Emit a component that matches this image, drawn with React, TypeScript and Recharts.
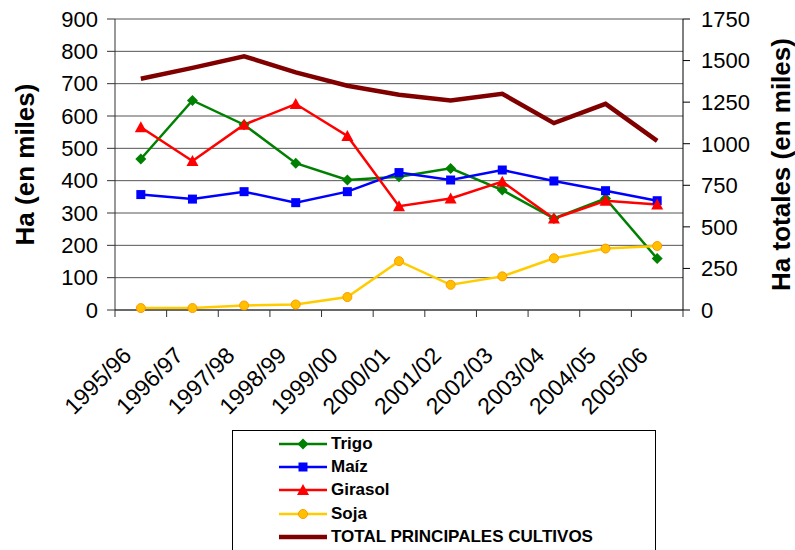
import React from 'react';
import { LineChart, Line, XAxis, YAxis, CartesianGrid, Legend } from 'recharts';

// Campañas agrícolas
const seasons = [
  '1995/96', '1996/97', '1997/98', '1998/99', '1999/00', '2000/01',
  '2001/02', '2002/03', '2003/04', '2004/05', '2005/06',
];

// Superficie sembrada, miles de ha (eje izquierdo)
const trigo = [467, 648, 573, 454, 402, 412, 438, 371, 283, 345, 159];
const maiz = [357, 343, 366, 332, 366, 425, 402, 433, 399, 369, 338];
const girasol = [565, 461, 573, 637, 538, 321, 345, 397, 283, 338, 326];
const soja = [6, 6, 14, 17, 40, 151, 78, 104, 160, 190, 198];

// Total principales cultivos, miles de ha (eje derecho)
const total = [1391, 1456, 1526, 1429, 1349, 1294, 1260, 1300, 1124, 1240, 1017];

const leftTicks = [0, 100, 200, 300, 400, 500, 600, 700, 800, 900];
const rightTicks = [0, 250, 500, 750, 1000, 1250, 1500, 1750];

const FONT = '"Liberation Sans", Arial, Helvetica, sans-serif';

type Marker = 'diamond' | 'square' | 'triangle' | 'circle' | 'none';

const series: { key: string; name: string; color: string; marker: Marker; width: number; axis: string }[] = [
  { key: 'trigo', name: 'Trigo', color: '#008000', marker: 'diamond', width: 2.5, axis: 'left' },
  { key: 'maiz', name: 'Maíz', color: '#0000FF', marker: 'square', width: 2.5, axis: 'left' },
  { key: 'girasol', name: 'Girasol', color: '#FF0000', marker: 'triangle', width: 2.5, axis: 'left' },
  { key: 'soja', name: 'Soja', color: '#FFCC00', marker: 'circle', width: 2.5, axis: 'left' },
  { key: 'total', name: 'TOTAL PRINCIPALES CULTIVOS', color: '#800000', marker: 'none', width: 4.5, axis: 'right' },
];

const data = seasons.map((season, i) => ({
  pos: i + 0.5,
  season,
  trigo: trigo[i],
  maiz: maiz[i],
  girasol: girasol[i],
  soja: soja[i],
  total: total[i],
}));

// tick marks at the category boundaries, labels at the centres
const xTicks = Array.from({ length: seasons.length * 2 + 1 }, (_, k) => k / 2);

function markerShape(marker: Marker, cx: number, cy: number, color: string, key?: string) {
  if (marker === 'diamond') {
    return <path key={key} d={`M${cx},${cy - 5.5}L${cx + 5.5},${cy}L${cx},${cy + 5.5}L${cx - 5.5},${cy}Z`} fill={color} />;
  }
  if (marker === 'square') {
    return <rect key={key} x={cx - 4.5} y={cy - 4.5} width={9} height={9} fill={color} />;
  }
  if (marker === 'triangle') {
    return <path key={key} d={`M${cx},${cy - 6}L${cx + 6},${cy + 5}L${cx - 6},${cy + 5}Z`} fill={color} />;
  }
  if (marker === 'circle') {
    return <circle key={key} cx={cx} cy={cy} r={4.5} fill="#FFC000" stroke="#FF9900" strokeWidth={1} />;
  }
  return <g key={key} />;
}

const makeDot = (marker: Marker, color: string) => (props: any) =>
  markerShape(marker, props.cx, props.cy, color, `dot-${props.index}`);

const SeasonTick = (props: any) => {
  const { x, y, payload } = props;
  const v = payload.value as number;
  if (Number.isInteger(v)) {
    return <line x1={x} y1={y} x2={x} y2={y + 7} stroke="#333" strokeWidth={1} />;
  }
  const label = seasons[Math.floor(v)];
  const tx = x - 8;
  const ty = y + 47;
  return (
    <text
      x={tx}
      y={ty}
      transform={`rotate(-45, ${tx}, ${ty})`}
      textAnchor="end"
      fontSize={23}
      fontFamily={FONT}
      fill="#000"
    >
      {label}
    </text>
  );
};

const renderLegend = (props: any) => {
  const shown = (props.payload || []).map((p: any) => p.dataKey);
  return (
    <div
      style={{
        boxSizing: 'border-box',
        width: 424,
        height: 120,
        border: '1px solid #000',
        borderBottom: 'none',
        background: '#fff',
        paddingTop: 1,
        paddingLeft: 46,
        fontFamily: FONT,
      }}
    >
      {series
        .filter((s) => shown.length === 0 || shown.includes(s.key))
        .map((s) => (
          <div key={s.key} style={{ height: 23.3, display: 'flex', alignItems: 'center' }}>
            <svg width={48} height={16} style={{ display: 'block' }}>
              <line x1={0} y1={8} x2={48} y2={8} stroke={s.color} strokeWidth={s.marker === 'none' ? 4.5 : 2.5} />
              {markerShape(s.marker, 24, 8, s.color)}
            </svg>
            <span style={{ marginLeft: 4, fontSize: 17, fontWeight: 'bold', color: '#000', whiteSpace: 'nowrap' }}>
              {s.name}
            </span>
          </div>
        ))}
    </div>
  );
};

export default function App() {
  return (
    <div style={{ position: 'absolute', left: 0, top: 0, width: 795, height: 550, overflow: 'hidden', background: '#fff' }}>
      <LineChart width={795} height={550} data={data} margin={{ top: 19, right: 0, bottom: 0, left: 0 }}>
        <CartesianGrid yAxisId="left" vertical={false} stroke="#555" />
        <XAxis
          dataKey="pos"
          type="number"
          domain={[0, seasons.length]}
          ticks={xTicks}
          interval={0}
          tickLine={false}
          tickSize={0}
          tickMargin={0}
          height={240}
          axisLine={{ stroke: '#555', strokeWidth: 1.5 }}
          tick={<SeasonTick />}
        />
        <YAxis
          yAxisId="left"
          domain={[0, 900]}
          ticks={leftTicks}
          interval={0}
          width={115}
          tickSize={8}
          tickMargin={9}
          axisLine={{ stroke: '#333' }}
          tickLine={{ stroke: '#333' }}
          tick={{ fontSize: 22, fill: '#000', fontFamily: FONT }}
          label={{
            value: 'Ha (en miles)',
            angle: -90,
            position: 'center',
            dx: -33,
            style: { fontSize: 26, fontWeight: 'bold', fill: '#000', fontFamily: FONT },
          }}
        />
        <YAxis
          yAxisId="right"
          orientation="right"
          domain={[0, 1750]}
          ticks={rightTicks}
          interval={0}
          width={112}
          tickSize={7}
          tickMargin={11}
          axisLine={{ stroke: '#000' }}
          tickLine={{ stroke: '#000' }}
          tick={{ fontSize: 22, fill: '#000', fontFamily: FONT }}
          label={{
            value: 'Ha totales (en miles)',
            angle: -90,
            position: 'center',
            dx: 42,
            style: { fontSize: 26, fontWeight: 'bold', fill: '#000', fontFamily: FONT },
          }}
        />
        <Legend
          layout="vertical"
          align="center"
          verticalAlign="middle"
          wrapperStyle={{ left: 232, top: 430, width: 424, height: 120 }}
          content={renderLegend}
        />
        {series.map((s) => (
          <Line
            key={s.key}
            yAxisId={s.axis}
            type="linear"
            dataKey={s.key}
            name={s.name}
            stroke={s.color}
            strokeWidth={s.width}
            dot={s.marker === 'none' ? false : makeDot(s.marker, s.color)}
            activeDot={false}
            isAnimationActive={false}
          />
        ))}
      </LineChart>
    </div>
  );
}
